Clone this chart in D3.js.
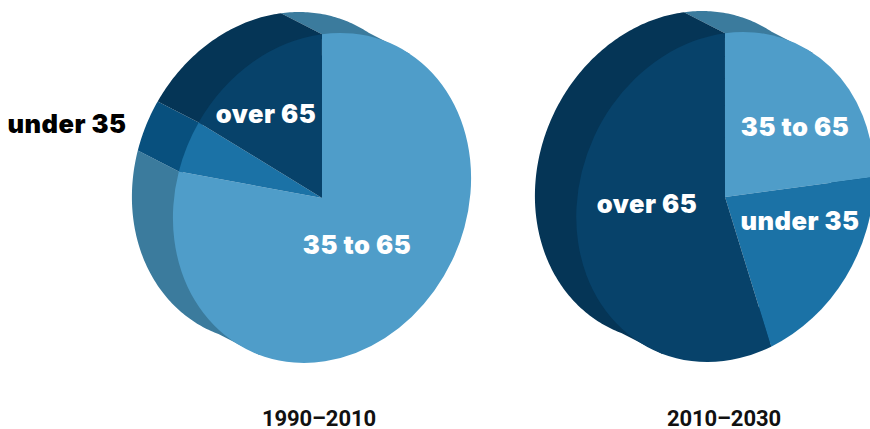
<!DOCTYPE html>
<html>
<head>
<meta charset="utf-8">
<script src="https://cdn.jsdelivr.net/npm/d3@7/dist/d3.min.js"></script>
<style>
html,body{margin:0;padding:0;background:#fff;overflow:hidden}
svg{display:block}
text{font-family:Inter,Roboto,"Liberation Sans",sans-serif}
.lab{font-weight:900;font-size:25.5px;text-anchor:middle;letter-spacing:.5px}
.yr{font-family:Roboto,"Liberation Sans",sans-serif;font-weight:700;font-size:22px;text-anchor:middle;fill:#111;letter-spacing:-.1px}
</style>
</head>
<body>
<svg id="c" width="870" height="429"></svg>
<script>
// DATA
const categories = ["35 to 65", "under 35", "over 65"];
const periods = ["1990\u20132010", "2010\u20132030"];
const shares1990 = [79.5, 5, 15.5];
const shares2010 = [25, 20, 55];

// STYLE / LAYOUT
const faceColors = ["#4f9dc9", "#1b72a6", "#07426a"];
const wallColors = ["#3b7b9d", "#08507e", "#053556"];
const geom = [
  {cx: 322, cy: 198, yrX: 319, labels: [[357, 254, "#fff"], [67, 133, "#000"], [266, 123, "#fff"]]},
  {cx: 725, cy: 197, yrX: 724, labels: [[795, 136, "#fff"], [800, 230, "#fff"], [647, 213, "#fff"]]}
];
const rx = 148, ry = 165, shear = -18, depthX = -41, depthY = -21, yearY = 426;
const rimOverlap = 0.97; // walls start slightly under the face so no seam shows
const startAngle = -Math.atan2(-shear / rx, 1); // keeps the first cut vertical on screen

const svg = d3.select("#c");
const pie = d3.pie().sort(null).value(d => d)
  .startAngle(startAngle).endAngle(startAngle + 2 * Math.PI);
const arc = d3.arc().innerRadius(0).outerRadius(1);

[shares1990, shares2010].forEach((vals, p) => {
  const g = geom[p];
  const arcs = pie(vals);
  const project = ([u, v]) => [g.cx + rx * u + shear * v, g.cy + ry * v];
  const root = svg.append("g");

  // side walls: sweep of each slice's rim toward the back
  arcs.forEach((a, i) => {
    const n = Math.max(2, Math.ceil((a.endAngle - a.startAngle) / 0.015));
    const angles = d3.range(n + 1).map(k => a.startAngle + (a.endAngle - a.startAngle) * k / n);
    const line = d3.line();
    const d = d3.pairs(angles).map(([t0, t1]) => {
      const s = project(d3.pointRadial(t0, 1)), e = project(d3.pointRadial(t1, 1));
      const q = [
        project(d3.pointRadial(t0, rimOverlap)), project(d3.pointRadial(t1, rimOverlap)),
        e, [e[0] + depthX, e[1] + depthY], [s[0] + depthX, s[1] + depthY], s
      ];
      if (d3.polygonArea(q) < 0) q.reverse();
      return line(q) + "Z";
    }).join("");
    root.append("path").attr("d", d).attr("fill", wallColors[i]);
  });

  // front faces
  root.append("g")
    .attr("transform", `matrix(${rx} 0 ${shear} ${ry} ${g.cx} ${g.cy})`)
    .selectAll("path").data(arcs).join("path")
    .attr("d", arc)
    .attr("fill", (d, i) => faceColors[i]);

  // labels
  root.selectAll("text.lab").data(categories).join("text")
    .attr("class", "lab")
    .attr("x", (d, i) => g.labels[i][0])
    .attr("y", (d, i) => g.labels[i][1])
    .attr("fill", (d, i) => g.labels[i][2])
    .text(d => d);

  root.append("text").attr("class", "yr")
    .attr("x", g.yrX).attr("y", yearY).text(periods[p]);
});
</script>
</body>
</html>
